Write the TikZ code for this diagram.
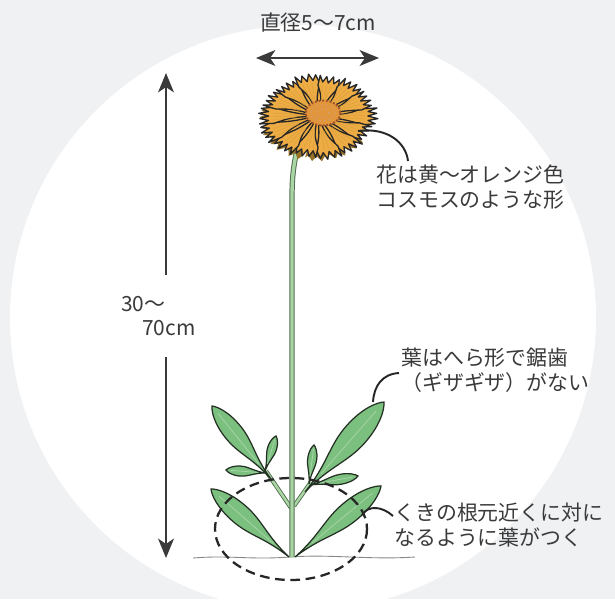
\documentclass[tikz,border=0pt]{standalone}
\usepackage{fontspec}
\newfontfamily\jpfont{Noto Sans CJK JP}
\usepackage{xcolor}
\usepackage{tikz}
\usetikzlibrary{calc}
\usetikzlibrary{arrows.meta}

\definecolor{bggrey}{RGB}{240,241,243}
\definecolor{inkgrey}{RGB}{58,58,58}
\definecolor{petalorange}{RGB}{237,172,68}
\definecolor{petalshade}{RGB}{150,115,40}
\definecolor{veinorange}{RGB}{222,160,60}
\definecolor{discorange}{RGB}{226,150,60}
\definecolor{discedge}{RGB}{160,80,40}
\definecolor{leafgreen}{RGB}{124,192,128}
\definecolor{leafline}{RGB}{35,48,35}
\definecolor{ribgreen}{RGB}{170,214,170}
\definecolor{stemgreen}{RGB}{170,214,165}
\definecolor{stemdark}{RGB}{80,110,78}
\definecolor{soilgrey}{RGB}{140,135,130}

% leaf from base (#1,#2) to tip (#3,#4), half width #5
\newcommand{\leaf}[5]{%
  \pgfmathsetmacro\lfang{atan2(#2-#4,#3-#1)}%
  \pgfmathsetmacro\lflen{veclen(#3-#1,#4-#2)}%
  \begin{scope}[shift={(#1,#2)},rotate=\lfang]
    \filldraw[leafbody] (0,0) .. controls (0.3*\lflen,0.12*#5) and (0.42*\lflen,#5) .. (0.64*\lflen,#5)
      .. controls (0.84*\lflen,#5) and (0.96*\lflen,0.4*#5) .. (\lflen,0)
      .. controls (0.96*\lflen,-0.4*#5) and (0.84*\lflen,-#5) .. (0.64*\lflen,-#5)
      .. controls (0.42*\lflen,-#5) and (0.3*\lflen,-0.12*#5) .. (0,0) -- cycle;
    \draw[leafrib] (0.2*\lflen,0) -- (0.9*\lflen,0);
  \end{scope}}

\begin{document}
\begin{tikzpicture}[x=0.02cm, y=-0.02cm,
    >={Stealth[length=11pt,width=9pt,inset=3pt]},
    txt/.style={font=\jpfont\fontsize{11.9}{14}\selectfont, text=inkgrey, inner sep=0pt, align=left},
    dim/.style={draw=inkgrey, line width=1.3pt},
    leader/.style={draw=black!85, line width=1.1pt},
    leafbody/.style={fill=leafgreen, draw=leafline, line width=0.7pt},
    leafrib/.style={draw=ribgreen, line width=0.4pt},
    stemedge/.style={draw=stemdark, line width=#1},
    stemcore/.style={draw=stemgreen, line width=#1},
    petal/.style={fill=petalorange, draw=black!85, line width=0.75pt, line join=round},
    vein/.style={draw=veinorange, line width=0.3pt},
    soil/.style={draw=soilgrey, line width=0.5pt},
    dashring/.style={draw=black!85, line width=1.3pt, dash pattern=on 5.5pt off 3.2pt}]
  \useasboundingbox (0,0) rectangle (615,599);
  %BACKGROUND
  \fill[bggrey] (0,0) rectangle (615,599);
  \fill[white] (303,318) circle[radius=293];

  %COORDINATES
  \coordinate (stemtop) at (297,150);
  \coordinate (stembase) at (292,557);
  \coordinate (lbranch) at (291,508);
  \coordinate (lfork) at (266,471);
  \coordinate (rbranch) at (294,506);
  \coordinate (rfork) at (311,482);
  \coordinate (disc) at (323,113);

  %GROUND
  \draw[soil] (193,558) .. controls (230,555) and (250,560) .. (290,557) .. controls (330,554) and (370,560) .. (415,557);

  %BRANCHES
  \draw[stemedge=2.4pt] (lbranch) -- (lfork);
  \draw[stemcore=1.4pt] (lbranch) -- (lfork);
  \draw[stemedge=2.4pt] (rbranch) -- (rfork);
  \draw[stemcore=1.4pt] (rbranch) -- (rfork);

  %LEAVES
  \leaf{289}{557}{211}{489}{10}
  \leaf{295}{557}{381}{486}{10.5}
  \leaf{271}{479}{212}{406}{9.5}
  \leaf{305}{492}{384}{402}{12.5}
  \leaf{265}{471}{276}{436}{4.5}
  \leaf{266}{473}{226}{470}{5}
  \leaf{309}{484}{314}{445}{4.5}
  \leaf{310}{485}{358}{476}{5}

  %STEM
  \draw[stemedge=3pt] (stemtop) .. controls (292,172) and (292,185) .. (292,205) -- (stembase);
  \draw[stemcore=1.9pt] (stemtop) .. controls (292,172) and (292,185) .. (292,205) -- (stembase);

  %DASHED RING
  \draw[dashring] (291,529) ellipse[x radius=76, y radius=51];

  %FLOWER
  % darker petals peeking out underneath, lower side only
  \begin{scope}[shift={(316,120)}, yscale=0.73]
    \foreach \a in {40,65,...,190}
      \fill[petalshade] (0,0) -- ({\a-11}:{0.85*58}) -- ({\a-6}:{0.98*58}) -- ({\a-1}:{0.86*58}) -- ({\a+4}:{0.97*58}) -- ({\a+9}:{0.85*58}) -- ({\a+12}:{0.9*58}) -- cycle;
  \end{scope}
  \begin{scope}[shift={(318,116)}, yscale=0.73]
    \fill[petalorange] (0,0) circle[radius=46];
    \foreach \a/\f in {0/1.0,25.7/0.93,51.4/0.98,77.1/1.0,102.8/0.95,128.5/0.99,154.2/1.02,180/0.99,205.7/0.95,231.4/0.92,257.1/0.97,282.8/0.93,308.5/0.97,334.2/0.95} {
      \filldraw[petal] (0,0) .. controls ({\a-4}:{0.45*\f*60}) .. ({\a-12.9}:{0.76*\f*60}) -- ({\a-10.5}:{\f*60}) -- ({\a-7}:{0.84*\f*60}) -- ({\a-3.5}:{0.98*\f*60}) -- ({\a}:{0.83*\f*60}) -- ({\a+3.5}:{1.0*\f*60}) -- ({\a+7}:{0.84*\f*60}) -- ({\a+10.5}:{0.97*\f*60}) -- ({\a+15}:{0.78*\f*60}) .. controls ({\a+10}:{0.45*\f*60}) .. (0,0) -- cycle;
      \draw[vein] ({\a-3}:{0.35*\f*60}) -- ({\a-7}:{0.78*\f*60});
      \draw[vein] ({\a+1}:{0.35*\f*60}) -- ({\a-1}:{0.78*\f*60});
      \draw[vein] ({\a+5}:{0.35*\f*60}) -- ({\a+5}:{0.78*\f*60});
    }
  \end{scope}
  \fill[discorange] (disc) ellipse[x radius=17.5, y radius=12.5];
  \draw[discedge!55, dotted, line width=0.6pt] (disc) ellipse[x radius=12, y radius=8];
  \draw[discedge!55, dotted, line width=0.6pt] (disc) ellipse[x radius=6.5, y radius=4];
  \draw[discedge, densely dotted, line width=1.1pt] (disc) ellipse[x radius=17.5, y radius=12.5];

  %DIMENSIONS
  \coordinate (wl) at (256,58);
  \coordinate (wr) at (379,58);
  \draw[dim, <->] (wl) -- (wr);
  \node[txt, anchor=center] (width) at (318,23) {直径5〜7cm};
  \coordinate (htop) at (166,73);
  \coordinate (hup) at (166,275);
  \coordinate (hdown) at (166,357);
  \coordinate (hbot) at (166,558);
  \draw[dim, ->] (hup) -- (htop);
  \draw[dim, ->] (hdown) -- (hbot);
  \node[txt, anchor=west] (height1) at (121,304) {30〜};
  \node[txt, anchor=west] (height2) at (142,328) {70cm};

  %LABELS
  \node[txt, anchor=west] (flowertxt) at (376,187) {花は黄〜オレンジ色\\コスモスのような形};
  \node[txt, anchor=west] (leaftxt) at (401,370) {葉はへら形で鋸歯\\（ギザギザ）がない};
  \node[txt, anchor=west] (basetxt) at (394,525) {くきの根元近くに対に\\なるように葉がつく};

  %LEADERS
  \coordinate (flowerpt) at (358,131);
  \coordinate (flowerend) at (408,161);
  \draw[leader] (flowerpt) .. controls (388,127) and (406,143) .. (flowerend);
  \coordinate (leafpt) at (373,402);
  \coordinate (leafend) at (399,373);
  \draw[leader] (leafpt) .. controls (374,386) and (382,374) .. (leafend);
  \coordinate (basept) at (362,515);
  \coordinate (baseend) at (393,516);
  \draw[leader] (basept) .. controls (368,505) and (382,506) .. (baseend);
\end{tikzpicture}
\end{document}
